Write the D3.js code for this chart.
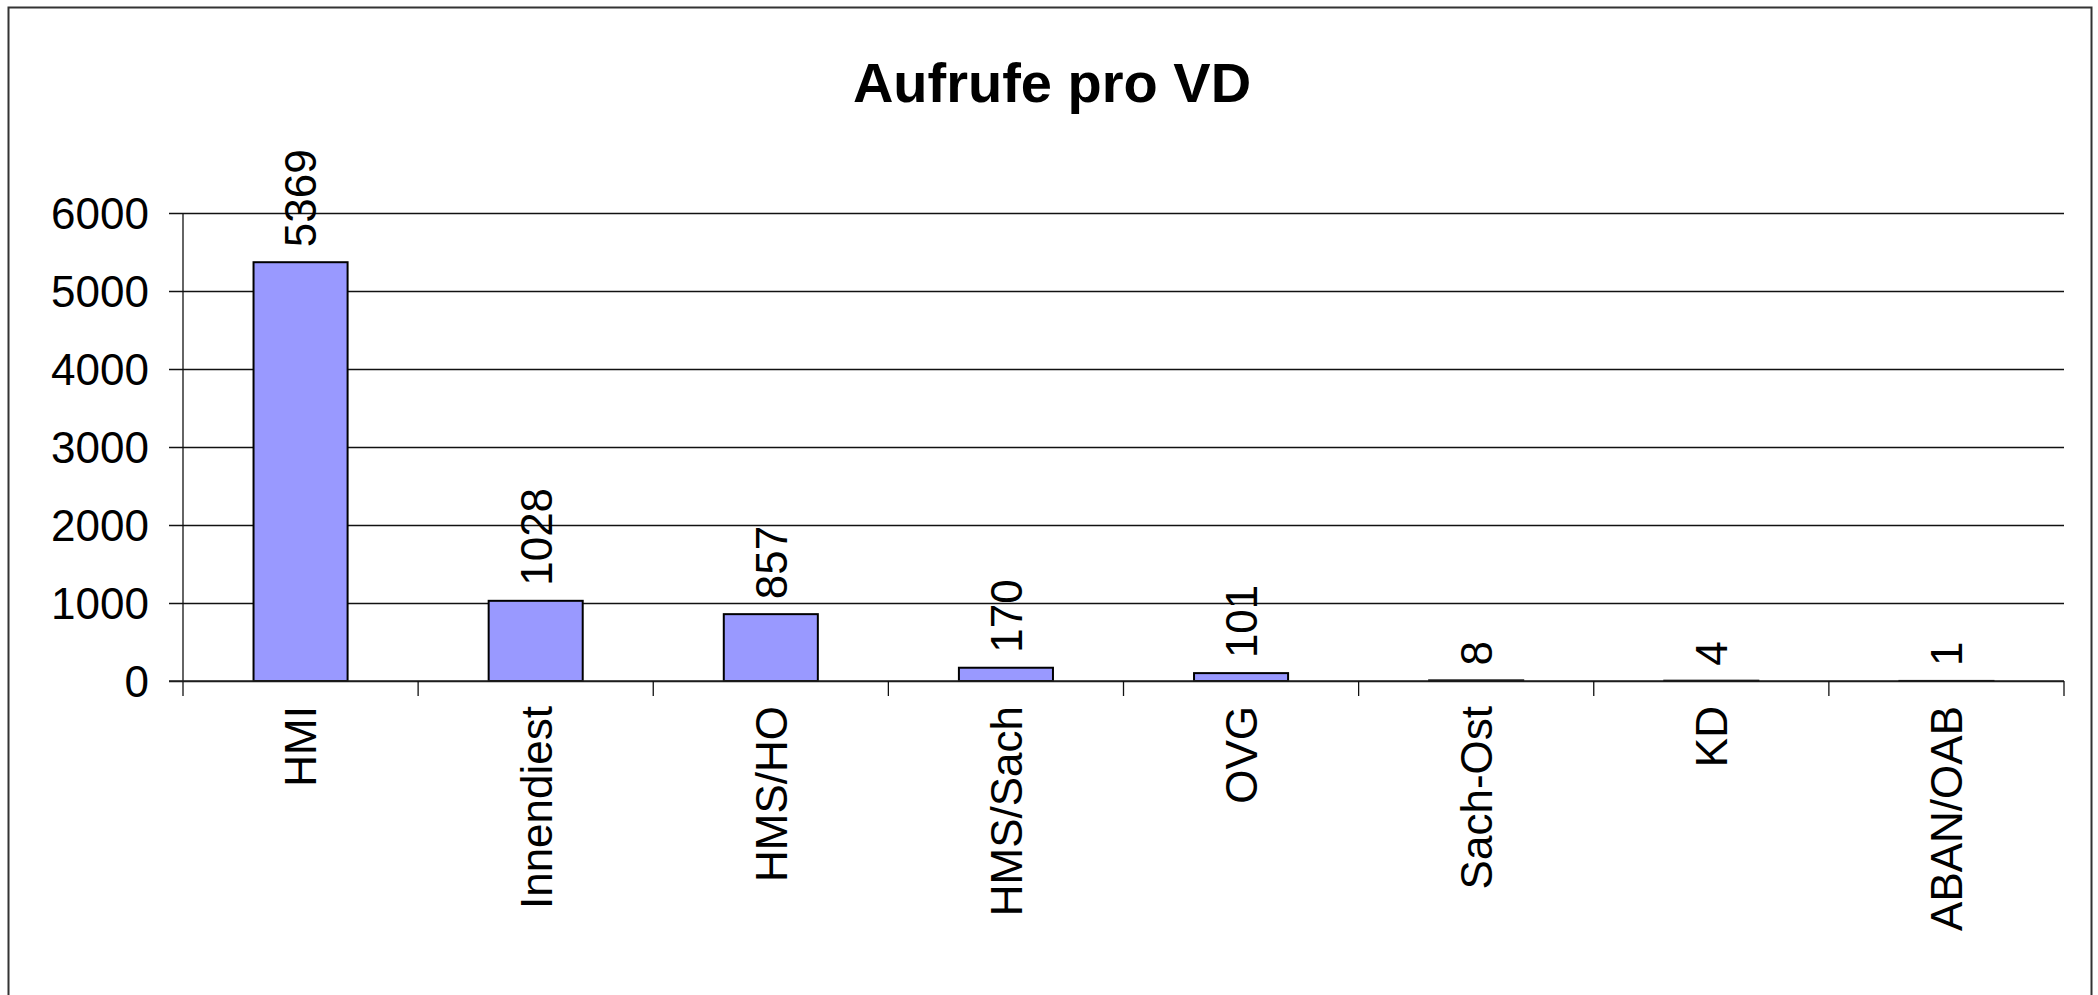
<!DOCTYPE html>
<html>
<head>
<meta charset="utf-8">
<script src="https://cdn.jsdelivr.net/npm/d3@7"></script>
<style>
  body { margin: 0; background: #fff; }
  text { font-family: Arial, "Liberation Sans", sans-serif; fill: #000; }
</style>
</head>
<body>
<div id="chart"></div>
<script>
const title = 'Aufrufe pro VD'
const categories = ['HMI', 'Innendiest', 'HMS/HO', 'HMS/Sach', 'OVG', 'Sach-Ost', 'KD', 'ABAN/OAB']
const values = [5369, 1028, 857, 170, 101, 8, 4, 1]
const yTicks = [0, 1000, 2000, 3000, 4000, 5000, 6000]

const outerWidth = 2098
const outerHeight = 995
const plot = {left: 183, right: 2064, top: 213, bottom: 681}
const tickLen = 14
const fontSize = 44

const svg = d3.select('#chart')
  .append('svg')
  .attr('width', outerWidth)
  .attr('height', outerHeight)

// chart border (bottom edge falls outside the picture)
svg.append('rect')
  .attr('x', 8.5)
  .attr('y', 7.5)
  .attr('width', 2083)
  .attr('height', 1010)
  .attr('fill', 'none')
  .attr('stroke', '#333')
  .attr('stroke-width', 2)

svg.append('text')
  .attr('x', 1052)
  .attr('y', 102)
  .style('text-anchor', 'middle')
  .style('font-size', '56px')
  .style('font-weight', 'bold')
  .text(title)

// scales
const xs = d3.scaleBand()
  .domain(categories)
  .range([plot.left, plot.right])
  .padding(0)
const ys = d3.scaleLinear()
  .domain([0, 6000])
  .range([plot.bottom, plot.top])

// gridlines + y tick labels
const yAxis = svg.append('g')
  .attr('transform', `translate(${plot.right},0)`)
  .call(d3.axisLeft(ys)
    .tickValues(yTicks)
    .tickFormat(d3.format('d'))
    .tickSize(plot.right - plot.left + tickLen)
    .tickPadding(20))
yAxis.select('.domain').remove()
yAxis.selectAll('line')
  .attr('stroke', '#111')
  .attr('stroke-width', 1.3)
yAxis.selectAll('text')
  .style('font-size', fontSize + 'px')
  .attr('dy', '0.36em')

// y axis line
svg.append('line')
  .attr('x1', plot.left)
  .attr('x2', plot.left)
  .attr('y1', plot.top)
  .attr('y2', plot.bottom + 15)
  .attr('stroke', '#111')
  .attr('stroke-width', 1.3)

// bars
const barW = xs.bandwidth() * 0.4
svg.selectAll('.bar')
  .data(values)
  .enter()
  .append('rect')
  .classed('bar', true)
  .attr('x', (d, i) => xs(categories[i]) + (xs.bandwidth() - barW) / 2)
  .attr('y', (d) => ys(d))
  .attr('width', barW)
  .attr('height', (d) => ys(0) - ys(d))
  .attr('fill', '#9999ff')
  .attr('stroke', '#000')
  .attr('stroke-width', 2)

// x axis line and category boundary ticks
svg.append('line')
  .attr('x1', plot.left - tickLen)
  .attr('x2', plot.right)
  .attr('y1', plot.bottom)
  .attr('y2', plot.bottom)
  .attr('stroke', '#222')
  .attr('stroke-width', 1.6)
const bounds = categories.slice(1).map((c) => xs(c)).concat([plot.right])
svg.selectAll('.xtick')
  .data(bounds)
  .enter()
  .append('line')
  .classed('xtick', true)
  .attr('x1', (d) => d)
  .attr('x2', (d) => d)
  .attr('y1', plot.bottom)
  .attr('y2', plot.bottom + 15)
  .attr('stroke', '#111')
  .attr('stroke-width', 1.3)

// category labels, rotated
const xAxis = svg.append('g')
  .attr('transform', `translate(0,${plot.bottom})`)
  .call(d3.axisBottom(xs).tickSize(0))
xAxis.select('.domain').remove()
xAxis.selectAll('text')
  .style('font-size', fontSize + 'px')
  .style('text-anchor', 'end')
  .attr('transform', 'rotate(-90)')
  .attr('x', -25)
  .attr('y', 0)
  .attr('dy', '0.36em')

// value labels above bars
svg.selectAll('.val')
  .data(values)
  .enter()
  .append('text')
  .classed('val', true)
  .attr('transform', (d, i) => {
    let cx = xs(categories[i]) + xs.bandwidth() / 2
    return `translate(${cx},${ys(d) - 15}) rotate(-90)`
  })
  .attr('dy', '0.36em')
  .style('font-size', fontSize + 'px')
  .style('text-anchor', 'start')
  .text((d) => d)
</script>
</body>
</html>
